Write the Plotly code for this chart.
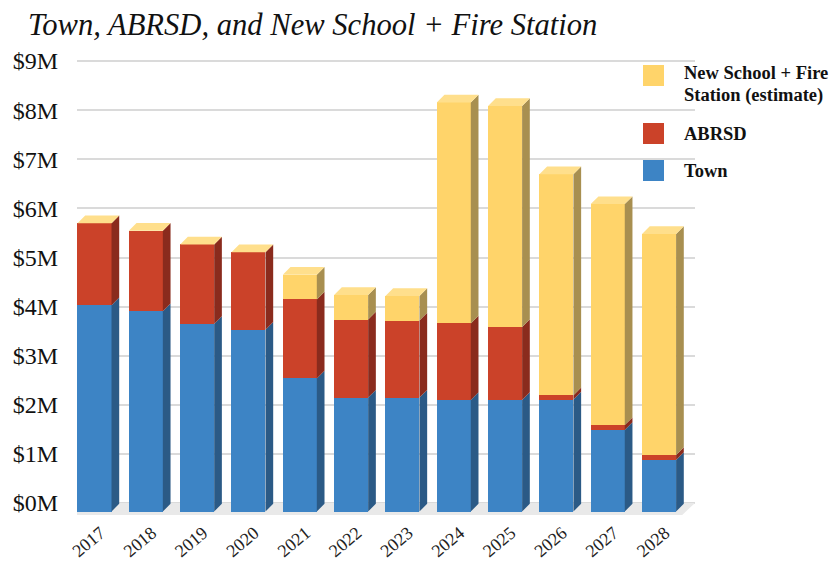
import plotly.graph_objects as go

# ---------------- data ($M) ----------------
years = ["2017", "2018", "2019", "2020", "2021", "2022",
         "2023", "2024", "2025", "2026", "2027", "2028"]
town = [4.20, 4.08, 3.82, 3.70, 2.71, 2.32, 2.32, 2.27, 2.27, 2.28, 1.66, 1.05]
abrsd = [1.67, 1.64, 1.62, 1.58, 1.61, 1.59, 1.57, 1.56, 1.49, 0.09, 0.10, 0.10]
new_school = [0.0, 0.0, 0.0, 0.0, 0.50, 0.50, 0.50, 4.50, 4.50, 4.50, 4.50, 4.50]
y_tick_values = [0, 1, 2, 3, 4, 5, 6, 7, 8, 9]
y_tick_labels = ["$0M", "$1M", "$2M", "$3M", "$4M", "$5M", "$6M", "$7M", "$8M", "$9M"]

series_names = ["Town", "ABRSD", "New School + Fire Station (estimate)"]
series_values = [town, abrsd, new_school]

# ---------------- styling ----------------
front_colors = ["#3D84C5", "#CB4229", "#FFD46A"]
side_colors = ["#2B5A86", "#8A2B1D", "#A88F50"]
top_color = "#FFDF8C"

W, H = 829, 564
ML, MR, MT, MB = 77, 134, 55, 44
BAR_W = 0.663
DX = 0.15      # depth in x units
DY = 0.157     # depth in y units
WALL = 0.173   # back wall offset in value units
X_RANGE = [-0.341, 11.70]
Y_RANGE = [-0.173, 9.297]
SERIF = "Liberation Serif, Times New Roman, serif"

pw = W - ML - MR
ph = H - MT - MB


def px_x(p):
    return (p - ML) / pw


def px_y(p):
    return 1 - (p - MT) / ph


fig = go.Figure()

xs = list(range(len(years)))

# front faces
for name, vals, col in zip(series_names, series_values, front_colors):
    fig.add_trace(go.Bar(x=xs, y=vals, name=name, marker_color=col,
                         marker_line_width=0, width=BAR_W, showlegend=False,
                         hovertemplate="%{y:.2f}M<extra>" + name + "</extra>"))

# side faces and top caps, built from the same data
bases = [0.0] * len(years)
for k, (vals, scol) in enumerate(zip(series_values, side_colors)):
    sx, sy = [], []
    for i, v in enumerate(vals):
        b = bases[i]
        t = b + v
        xr = xs[i] + BAR_W / 2
        if v > 0:
            sx += [xr, xr + DX, xr + DX, xr, xr, None]
            sy += [b, b + DY, t + DY, t, b, None]
    fig.add_trace(go.Scatter(x=sx, y=sy, mode="lines", fill="toself",
                             fillcolor=scol, line=dict(width=0, color=scol),
                             hoverinfo="skip", showlegend=False))
    bases = [bases[i] + vals[i] for i in range(len(years))]

cx, cy = [], []
for i, t in enumerate(bases):
    xl = xs[i] - BAR_W / 2
    xr = xs[i] + BAR_W / 2
    cx += [xl, xl + DX, xr + DX, xr, xl, None]
    cy += [t, t + DY, t + DY, t, t, None]
fig.add_trace(go.Scatter(x=cx, y=cy, mode="lines", fill="toself",
                         fillcolor=top_color, line=dict(width=0, color=top_color),
                         hoverinfo="skip", showlegend=False))

shapes = []
# floor
shapes.append(dict(type="path", xref="x", yref="y", layer="between",
                   path=f"M {X_RANGE[0]} {WALL} L {X_RANGE[1]} {WALL} "
                        f"L {X_RANGE[1] - 0.25} {-0.07} L {X_RANGE[0] - 0.25} {-0.07} Z",
                   fillcolor="#E9E9E9", line=dict(width=0)))
# base line
shapes.append(dict(type="line", xref="paper", yref="y", layer="between",
                   x0=0, x1=1, y0=WALL, y1=WALL,
                   line=dict(color="#5A5A5A", width=2)))
# legend background
shapes.append(dict(type="rect", xref="paper", yref="paper", layer="between",
                   x0=px_x(638), x1=px_x(829), y0=px_y(190), y1=px_y(50),
                   fillcolor="white", line=dict(width=0)))

annotations = []
legend_items = [
    (series_names[2], front_colors[2], 65, [("New School + Fire", 73), ("Station (estimate)", 95)]),
    (series_names[1], front_colors[1], 123, [("ABRSD", 134)]),
    (series_names[0], front_colors[0], 160, [("Town", 171)]),
]
for name, col, top, lines in legend_items:
    shapes.append(dict(type="rect", xref="paper", yref="paper", layer="above",
                       x0=px_x(643), x1=px_x(664), y0=px_y(top + 21), y1=px_y(top),
                       fillcolor=col, line=dict(width=0)))
    for txt, yc in lines:
        annotations.append(dict(xref="paper", yref="paper", x=px_x(682), y=px_y(yc),
                                xanchor="left", yanchor="middle", showarrow=False,
                                text="<b>" + txt + "</b>",
                                font=dict(family=SERIF, size=18.5, color="#111")))

fig.update_layout(
    width=W, height=H,
    margin=dict(l=ML, r=MR, t=MT, b=MB, pad=0, autoexpand=False),
    paper_bgcolor="white", plot_bgcolor="white",
    barmode="stack", bargap=0,
    showlegend=False,
    title=dict(text="Town, ABRSD, and New School + Fire Station",
               x=28 / W, xref="container", xanchor="left",
               y=1 - 24 / H, yref="container", yanchor="middle",
               font=dict(family=SERIF, size=30.6, style="italic", color="#111")),
    xaxis=dict(range=X_RANGE, tickvals=xs, ticktext=years, tickangle=-40,
               showgrid=False, zeroline=False, showline=False, ticks="",
               tickfont=dict(family=SERIF, size=18, color="#222"),
               ticklabelstandoff=-2, ticklabelshift=6, automargin=False,
               fixedrange=True),
    yaxis=dict(range=Y_RANGE, tickvals=[v + WALL for v in y_tick_values],
               ticktext=y_tick_labels, showgrid=True, gridcolor="#DADADA",
               gridwidth=1.5, zeroline=False, showline=False, ticks="",
               tickfont=dict(family=SERIF, size=24, color="#111"),
               ticklabelstandoff=18, automargin=False, fixedrange=True),
    shapes=shapes,
    annotations=annotations,
)

fig.write_html("out.html")
